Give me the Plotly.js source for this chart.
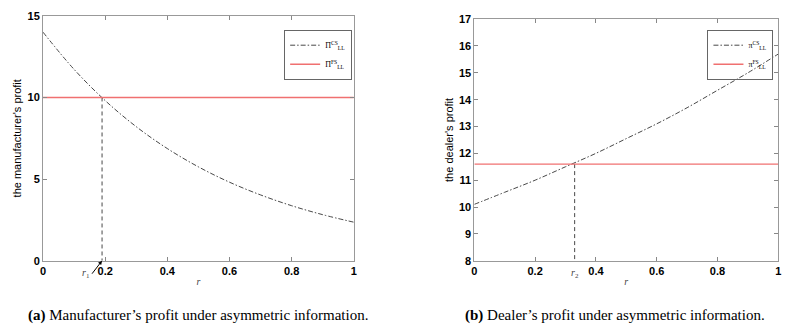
<!DOCTYPE html>
<html><head><meta charset="utf-8">
<script src="https://cdn.plot.ly/plotly-3.0.1.min.js"></script>
<style>body{margin:0;background:#fff}#c{width:804px;height:330px}</style>
</head><body><div id="c"></div>
<script>
// Data
const r = [0, 0.1, 0.2, 0.3, 0.4, 0.5, 0.6, 0.7, 0.8, 0.9, 1.0];
const manufCS = [14.0, 11.72, 9.81, 8.21, 6.87, 5.75, 4.81, 4.03, 3.37, 2.82, 2.36];
const manufFS = [10, 10, 10, 10, 10, 10, 10, 10, 10, 10, 10];
const dealerCS = [10.1, 10.55, 11.0, 11.5, 12.0, 12.55, 13.1, 13.7, 14.35, 15.0, 15.7];
const dealerFS = [11.6, 11.6, 11.6, 11.6, 11.6, 11.6, 11.6, 11.6, 11.6, 11.6, 11.6];
const r1 = [0.19, 0.19];
const r1y = [10, 0];
const r2 = [0.33, 0.33];
const r2y = [11.6, 8];
const xTicksA = [0, 0.2, 0.4, 0.6, 0.8, 1];
const xTickTextA = ['0', '0.2', '0.4', '0.6', '0.8', '1'];
const xTicksB = [0, 0.2, 0.4, 0.6, 0.8, 1];
const xTickTextB = ['0', '0.2', '0.4', '0.6', '0.8', '1'];
const yTicksA = [0, 5, 10, 15];
const yTicksB = [8, 9, 10, 11, 12, 13, 14, 15, 16, 17];
const captionA = '<b>(a)</b> Manufacturer’s profit under asymmetric information.';
const captionB = '<b>(b)</b> Dealer’s profit under asymmetric information.';

const dashCol = '#333';
const redCol = '#f07070';
const dd = '5px,2px,1.5px,2px';
const traces = [
  {x: r1, y: r1y, xaxis: 'x', yaxis: 'y', mode: 'lines', line: {color: '#333', width: 0.9, dash: '4px,3px'}, showlegend: false},
  {x: r, y: manufCS, xaxis: 'x', yaxis: 'y', mode: 'lines', line: {color: dashCol, width: 0.9, dash: dd, shape: 'spline'}, name: 'Π<sup>CS</sup><sub>LL</sub>', legend: 'legend'},
  {x: r, y: manufFS, xaxis: 'x', yaxis: 'y', mode: 'lines', line: {color: redCol, width: 1.4, dash: 'solid'}, name: 'Π<sup>FS</sup><sub>LL</sub>', legend: 'legend'},
  {x: r2, y: r2y, xaxis: 'x2', yaxis: 'y2', mode: 'lines', line: {color: '#333', width: 0.9, dash: '4px,3px'}, showlegend: false},
  {x: r, y: dealerCS, xaxis: 'x2', yaxis: 'y2', mode: 'lines', line: {color: dashCol, width: 0.9, dash: dd, shape: 'spline'}, name: 'π<sup>CS</sup><sub>LL</sub>', legend: 'legend2'},
  {x: r, y: dealerFS, xaxis: 'x2', yaxis: 'y2', mode: 'lines', line: {color: redCol, width: 1.4, dash: 'solid'}, name: 'π<sup>FS</sup><sub>LL</sub>', legend: 'legend2'}
];

const tickFont = {family: 'Liberation Sans, Arial, sans-serif', size: 11, color: '#000', weight: 'bold'};
function xax(domain, anchor, tv, tt) {
  return {domain: domain, anchor: anchor, range: [0, 1], tickvals: tv, ticktext: tt,
    ticks: 'inside', ticklen: 4, tickcolor: '#888', showline: true, linecolor: '#999', linewidth: 1,
    mirror: 'ticks', showgrid: false, zeroline: false, tickfont: tickFont,
    title: {text: '<i>r</i>', font: {family: 'Liberation Serif, serif', size: 10, color: '#444'}, standoff: 2}};
}
function yax(domain, anchor, range, tv, title) {
  return {domain: domain, anchor: anchor, range: range, tickvals: tv,
    ticks: 'inside', ticklen: 4, tickcolor: '#888', showline: true, linecolor: '#999', linewidth: 1,
    mirror: 'ticks', showgrid: false, zeroline: false, tickfont: tickFont,
    title: {text: title, font: {family: 'Liberation Sans, Arial, sans-serif', size: 11, color: '#000'}, standoff: 3}};
}
const legendStyle = {bordercolor: '#666', borderwidth: 1, font: {family: 'Liberation Serif, serif', size: 8, color: '#000'},
  xanchor: 'right', yanchor: 'top', tracegroupgap: 0, itemwidth: 30};

const layout = {
  width: 804, height: 330, margin: {l: 0, r: 0, t: 0, b: 0},
  paper_bgcolor: '#fff', plot_bgcolor: '#fff', showlegend: true,
  xaxis: xax([0.0535, 0.440], 'y', xTicksA, xTickTextA),
  yaxis: yax([0.21, 0.952], 'x', [0, 15], yTicksA, 'the manufacturer\'s profit'),
  xaxis2: xax([0.590, 0.968], 'y2', xTicksB, xTickTextB),
  yaxis2: yax([0.21, 0.942], 'x2', [8, 17], yTicksB, 'the dealer\'s profit'),
  legend: Object.assign({x: 0.438, y: 0.91, bgcolor: '#fff'}, legendStyle),
  legend2: Object.assign({x: 0.962, y: 0.91, bgcolor: 'rgba(255,255,255,0)'}, legendStyle),
  annotations: [
    {xref: 'x', yref: 'y', x: 0.19, y: 0, ax: -10, ay: 13, showarrow: true, arrowhead: 2, arrowsize: 0.8, arrowwidth: 1, arrowcolor: '#000',
     text: '<i>r</i><sub>1</sub>', font: {family: 'Liberation Serif, serif', size: 10, color: '#444'}, xanchor: 'right', yanchor: 'middle'},
    {xref: 'x2', yref: 'paper', x: 0.33, y: 0.197, showarrow: false, text: '<i>r</i><sub>2</sub>',
     font: {family: 'Liberation Serif, serif', size: 10, color: '#444'}, xanchor: 'center', yanchor: 'top'},
    {xref: 'paper', yref: 'paper', x: 0.2465, y: 0.045, showarrow: false, text: captionA, xanchor: 'center', yanchor: 'middle',
     font: {family: 'Liberation Serif, Times New Roman, serif', size: 15, color: '#000'}},
    {xref: 'paper', yref: 'paper', x: 0.765, y: 0.045, showarrow: false, text: captionB, xanchor: 'center', yanchor: 'middle',
     font: {family: 'Liberation Serif, Times New Roman, serif', size: 15, color: '#000'}}
  ]
};
Plotly.newPlot('c', traces, layout, {displayModeBar: false, staticPlot: true});
</script></body></html>
